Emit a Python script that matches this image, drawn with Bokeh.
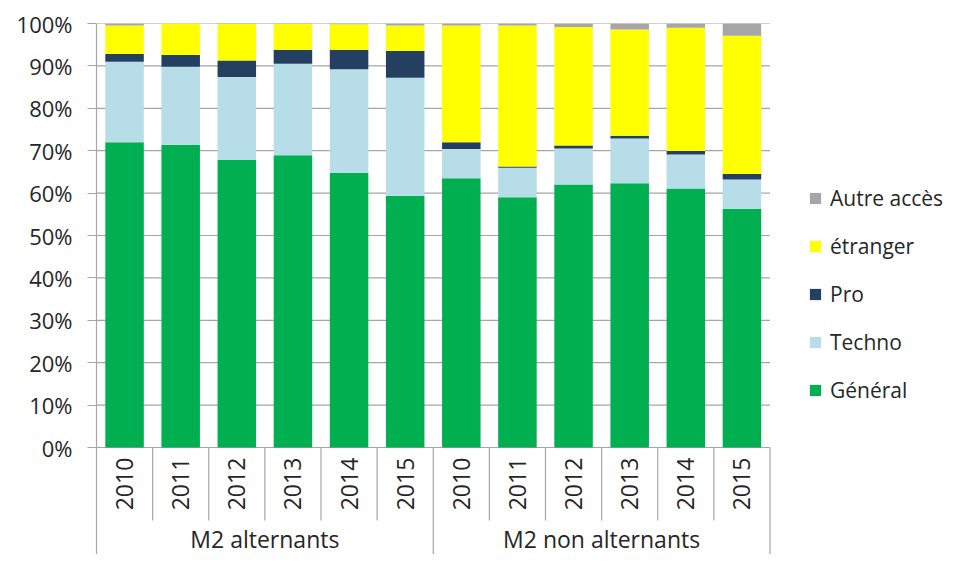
import math
from bokeh.plotting import figure
from bokeh.models import (ColumnDataSource, Range1d, FixedTicker, PrintfTickFormatter,
                          Legend, LegendItem)
from bokeh.core.properties import value
from bokeh.embed import file_html
from bokeh.resources import INLINE

# ---- data ----
groups = ["M2 alternants", "M2 non alternants"]
years = ["2010", "2011", "2012", "2013", "2014", "2015"]
general = [72.0, 71.4, 67.8, 68.9, 64.8, 59.4, 63.5, 59.0, 62.0, 62.3, 61.1, 56.3]
techno = [19.0, 18.4, 19.6, 21.6, 24.4, 27.8, 6.9, 7.0, 8.5, 10.6, 8.0, 6.9]
pro = [1.8, 2.8, 3.9, 3.3, 4.6, 6.3, 1.6, 0.3, 0.7, 0.6, 0.8, 1.3]
etranger = [6.7, 7.4, 8.6, 6.1, 6.0, 6.0, 27.5, 33.2, 28.0, 25.1, 29.1, 32.6]
autre = [0.5, 0.0, 0.1, 0.1, 0.2, 0.5, 0.5, 0.5, 0.8, 1.4, 1.0, 2.9]
series_names = ["Général", "Techno", "Pro", "étranger", "Autre accès"]
colors = ["#00B050", "#B7DDE8", "#243F60", "#FFFF00", "#A6A6A6"]
y_ticks = [0, 10, 20, 30, 40, 50, 60, 70, 80, 90, 100]

FONT = "Open Sans"
TXT = "#262626"
GRID = "#A6A6A6"

n = len(groups) * len(years)
xs = list(range(n))
cat_years = years * len(groups)
keys = ["general", "techno", "pro", "etranger", "autre"]
src = ColumnDataSource(dict(x=xs, general=general, techno=techno, pro=pro,
                            etranger=etranger, autre=autre))

W, H = 945, 554
left, top = 96, 23
frame_w = W - left
frame_h = H - top
zero_px = 447 - top          # pixel distance from frame top to 0%
ppu = zero_px / 100.0
y_bottom = -(frame_h - zero_px) / ppu
cat_px = 673.5 / n
x_end = -0.5 + frame_w / cat_px

p = figure(width=W, height=H, output_backend="svg", toolbar_location=None,
           x_axis_location=None, x_range=Range1d(-0.5, x_end),
           y_range=Range1d(y_bottom, 100), min_border_left=left,
           min_border_top=top, min_border_right=0, min_border_bottom=0,
           outline_line_color=None)
p.grid.visible = False

# gridlines (only across the plotting categories)
p.segment(x0=[-0.5] * len(y_ticks), x1=[n - 0.5] * len(y_ticks), y0=y_ticks, y1=y_ticks,
          line_color=GRID, line_width=1.2)

# table separators below axis
year_row_bottom = -(520 - 447) / ppu
inner = [i + 0.5 for i in range(n - 1) if (i + 1) % len(years) != 0]
outer = [(g + 1) * len(years) - 0.5 for g in range(len(groups))]
p.segment(x0=inner, x1=inner, y0=[0] * len(inner), y1=[year_row_bottom] * len(inner),
          line_color=GRID, line_width=1.2)
p.segment(x0=outer, x1=outer, y0=[0] * len(outer), y1=[y_bottom] * len(outer),
          line_color=GRID, line_width=1.2)

rs = p.vbar_stack(keys, x="x", width=0.686, source=src, color=colors, line_color=None)

# y axis
ax = p.yaxis[0]
ax.ticker = FixedTicker(ticks=y_ticks)
ax.formatter = PrintfTickFormatter(format="%d%%")
ax.bounds = (y_bottom, 100)
ax.axis_line_color = GRID
ax.axis_line_width = 1.2
ax.major_tick_line_color = GRID
ax.major_tick_line_width = 1.2
ax.major_tick_out = 9
ax.major_tick_in = 0
ax.minor_tick_line_color = None
ax.major_label_standoff = 15
ax.major_label_text_font = FONT
ax.major_label_text_font_size = "22px"
ax.major_label_text_color = TXT

# year labels
p.text(x=xs, y=[year_row_bottom / 2] * n, text=cat_years, angle=math.pi / 2,
       text_align="center", text_baseline="middle", text_font=value(FONT),
       text_font_size="23px", text_color=TXT)

# group labels
gx = [sum(xs[g * len(years):(g + 1) * len(years)]) / len(years) for g in range(len(groups))]
gy = -(538 - 447) / ppu
p.text(x=gx, y=[gy] * len(groups), text=groups, text_align="center",
       text_baseline="middle", text_font=value(FONT), text_font_size="23px",
       text_color=TXT)

# legend
items = [LegendItem(label=series_names[i], renderers=[rs[i]]) for i in reversed(range(len(rs)))]
leg = Legend(items=items, location=(712, 149), glyph_width=14, glyph_height=14,
             label_standoff=8, label_height=30, spacing=18, padding=0, margin=0,
             border_line_color=None, background_fill_alpha=0,
             label_text_font=FONT, label_text_font_size="21px", label_text_color=TXT)
p.add_layout(leg, "center")

open("out.html", "w").write(file_html(p, INLINE))
